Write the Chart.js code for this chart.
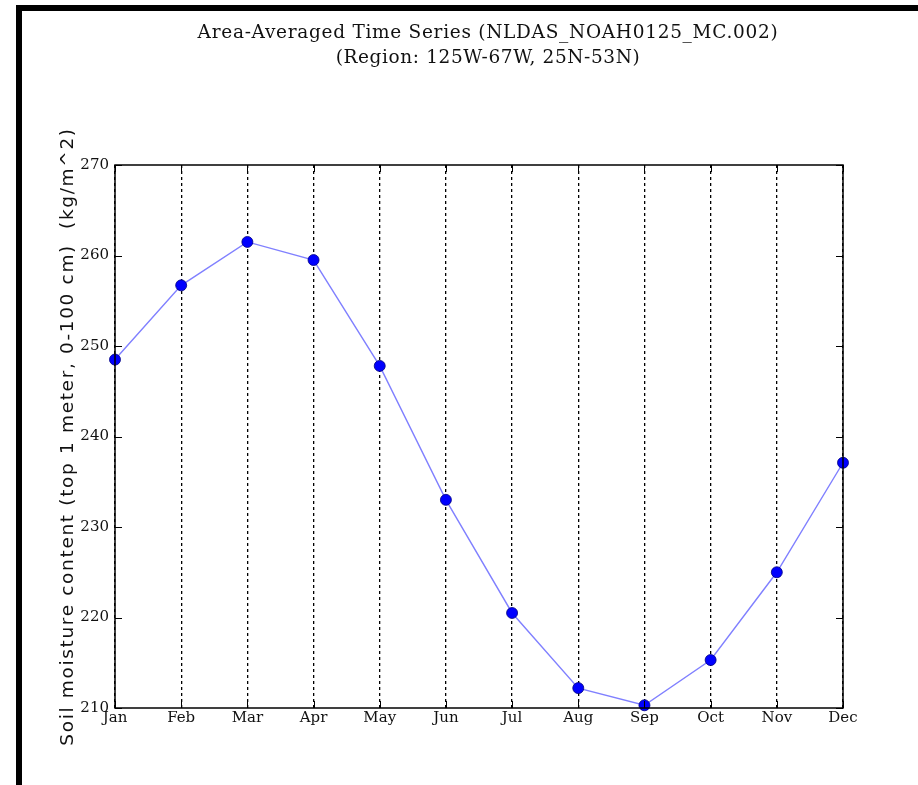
<!DOCTYPE html>
<html>
<head>
<meta charset="utf-8">
<script src="https://cdn.jsdelivr.net/npm/chart.js@4.4.1/dist/chart.umd.min.js"></script>
<style>
html,body{margin:0;padding:0;background:#fff;}
#wrap{width:918px;height:785px;position:relative;}
</style>
</head>
<body>
<div id="wrap"><canvas id="c" width="918" height="785"></canvas></div>
<script>
const months = ["Jan","Feb","Mar","Apr","May","Jun","Jul","Aug","Sep","Oct","Nov","Dec"];
const soilMoisture = [248.5, 256.7, 261.5, 259.5, 247.8, 233.0, 220.5, 212.2, 210.3, 215.3, 225.0, 237.1];
const yTicks = [210, 220, 230, 240, 250, 260, 270];
const titleLines = ["Area-Averaged Time Series (NLDAS_NOAH0125_MC.002)", "(Region: 125W-67W, 25N-53N)"];
const yTitle = "Soil moisture content (top 1 meter, 0-100 cm)  (kg/m^2)";

const SERIF = "'DejaVu Serif', serif";
const SANS = "'DejaVu Sans', sans-serif";

function fitText(ctx, text, targetWidth) {
  ctx.letterSpacing = '0px';
  const w = ctx.measureText(text).width;
  const sp = (targetWidth - w) / Math.max(1, text.length - 1);
  ctx.letterSpacing = sp.toFixed(2) + 'px';
}

const framePlugin = {
  id: 'frame',
  beforeDraw(chart) {
    const ctx = chart.ctx;
    ctx.save();
    ctx.fillStyle = '#fff';
    ctx.fillRect(0, 0, chart.width, chart.height);
    ctx.fillStyle = '#000';
    ctx.fillRect(16, 5, chart.width - 16, 6);
    ctx.fillRect(16, 5, 6, chart.height - 5);
    ctx.restore();
  },
  afterDraw(chart) {
    const ctx = chart.ctx;
    const a = chart.chartArea;
    const xs = chart.scales.x, ys = chart.scales.y;
    ctx.save();
    ctx.strokeStyle = '#000';
    ctx.lineWidth = 1;
    ctx.beginPath();
    xs.ticks.forEach((t, i) => {
      const px = Math.round(xs.getPixelForTick(i)) + 0.5;
      ctx.moveTo(px, a.bottom); ctx.lineTo(px, a.bottom - 7);
      ctx.moveTo(px, a.top); ctx.lineTo(px, a.top + 7);
    });
    yTicks.forEach(v => {
      const py = Math.round(ys.getPixelForValue(v)) + 0.5;
      ctx.moveTo(a.left, py); ctx.lineTo(a.left + 7, py);
      ctx.moveTo(a.right, py); ctx.lineTo(a.right - 7, py);
    });
    ctx.stroke();
    ctx.lineWidth = 1.5;
    ctx.strokeRect(a.left, a.top, a.right - a.left, a.bottom - a.top);

    // Title
    ctx.fillStyle = '#111';
    ctx.textAlign = 'center';
    ctx.textBaseline = 'middle';
    ctx.font = "18.5px " + SERIF;
    fitText(ctx, titleLines[0], 580);
    ctx.fillText(titleLines[0], 488, 33);
    fitText(ctx, titleLines[1], 304);
    ctx.fillText(titleLines[1], 488, 58);

    // Y axis title
    ctx.translate(68, (a.top + a.bottom) / 2);
    ctx.rotate(-Math.PI / 2);
    ctx.font = "18.5px " + SANS;
    fitText(ctx, yTitle, 617);
    ctx.fillText(yTitle, 0, 0);
    ctx.restore();
  }
};

new Chart(document.getElementById('c'), {
  type: 'line',
  data: {
    labels: months,
    datasets: [{
      data: soilMoisture,
      borderColor: '#8080ff',
      borderWidth: 1.4,
      pointBackgroundColor: '#0000ff',
      pointBorderColor: '#00007f',
      pointBorderWidth: 0.8,
      pointRadius: 5.5,
      tension: 0,
      clip: false
    }]
  },
  options: {
    responsive: false,
    animation: false,
    devicePixelRatio: 1,
    layout: { padding: { left: 0, right: 75, top: 165, bottom: 0 } },
    plugins: {
      legend: { display: false },
      tooltip: { enabled: false },
      title: { display: false }
    },
    scales: {
      x: {
        type: 'category',
        offset: false,
        grid: {
          display: true,
          color: '#000',
          lineWidth: 1.3,
          drawTicks: false
        },
        border: { display: false, dash: [3, 3] },
        ticks: {
          color: '#111',
          font: { family: SERIF, size: 15 },
          padding: 1,
          maxRotation: 0,
          autoSkip: false
        },
        afterFit(scale) { scale.height = 77; }
      },
      y: {
        min: 210,
        max: 270,
        grid: { display: false, drawTicks: false },
        border: { display: false },
        afterBuildTicks(scale) { scale.ticks = yTicks.map(v => ({ value: v })); },
        ticks: {
          color: '#111',
          font: { family: SERIF, size: 15 },
          padding: 6
        },
        afterFit(scale) { scale.width = 115; }
      }
    }
  },
  plugins: [framePlugin]
});
</script>
</body>
</html>
